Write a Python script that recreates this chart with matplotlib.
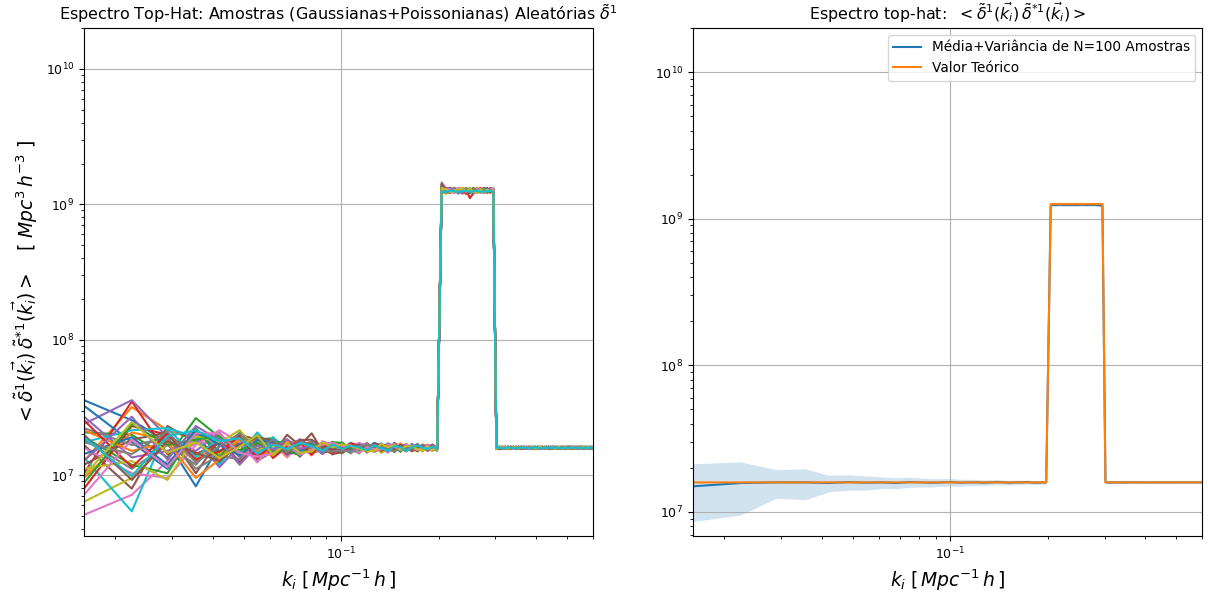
import numpy as np
import matplotlib
matplotlib.use("Agg")
import matplotlib.pyplot as plt

# k bins (Mpc^-1 h)
k = [0.0160, 0.0225, 0.0290, 0.0355, 0.0420, 0.0485, 0.0550, 0.0615, 0.0680, 0.0745,
     0.0810, 0.0875, 0.0940, 0.1005, 0.1070, 0.1135, 0.1200, 0.1265, 0.1330, 0.1395,
     0.1460, 0.1525, 0.1590, 0.1655, 0.1720, 0.1785, 0.1850, 0.1915, 0.1980, 0.2045,
     0.2110, 0.2175, 0.2240, 0.2305, 0.2370, 0.2435, 0.2500, 0.2565, 0.2630, 0.2695,
     0.2760, 0.2825, 0.2890, 0.2955, 0.3020, 0.3085, 0.3150, 0.3215, 0.3280, 0.3345,
     0.3410, 0.3475, 0.3540, 0.3605, 0.3670, 0.3735, 0.3800, 0.3865, 0.3930, 0.3995,
     0.4060, 0.4125, 0.4190, 0.4255, 0.4320, 0.4385, 0.4450, 0.4515, 0.4580, 0.4645,
     0.4710, 0.4775, 0.4840, 0.4905, 0.4970, 0.5035, 0.5100, 0.5165, 0.5230, 0.5295,
     0.5360, 0.5425, 0.5490, 0.5555, 0.5620, 0.5685, 0.5750, 0.5815, 0.5880, 0.5945,
     0.6010]

# valor teorico: patamar fora / dentro do top-hat
P_LOW = 1.59e7
P_HAT = 1.26e9
theory = [P_LOW] * 29 + [P_HAT] * 15 + [P_LOW] * 47

# amostras: desvio (%) em relacao ao valor teorico, por trecho de k
samples_low = [
    [125, 60, 10, -48, 5, -10, 8, -5, 12, -3, 6, -8, 4],
    [-20, 100, 35, 15, -18, 20, -12, 8, -15, 10, -4, 9, -6],
    [30, 25, -15, 66, 20, -8, 15, 18, -6, 4, 10, -5, 3],
    [-35, 120, -10, 25, -22, 12, -18, 5, 7, -12, 3, -6, 11],
    [50, 125, 20, -5, 30, -15, 10, -14, 4, 15, -8, 6, -2],
    [5, -50, 45, 10, -8, 25, 15, -10, 25, 4, 28, -5, 9],
    [-68, -55, -20, 8, 12, -20, 5, 16, -10, -8, 2, 7, -11],
    [15, -30, 5, -25, 18, 6, -20, -6, 3, 12, -9, -3, 8],
    [-60, -40, 8, -12, -10, 18, 12, 3, -12, 6, 5, -10, 2],
    [-15, -66, 40, 20, -25, 15, -5, 20, -3, -9, 12, 2, -7],
    [105, 10, -30, 30, -5, 8, -15, 12, 6, -4, -7, 11, 5],
    [-40, 30, 15, -20, 25, -12, 20, -8, -5, 9, 8, -4, -3],
    [20, -25, -35, 40, -15, 30, -8, 6, 14, -10, -2, 5, 10],
    [-50, 45, 25, -10, 8, -5, 25, -16, 2, 7, 10, -8, -4],
    [70, -15, -5, 15, -28, 4, -10, 14, -8, 16, -5, 8, 6],
    [-25, 15, 30, -35, 15, -22, 6, -4, 10, -14, 7, -2, -10],
    [0, -35, -40, 5, 35, 10, -22, 9, -14, 3, -12, 12, 4],
    [40, 5, 18, -30, -12, -18, 18, -12, 8, -5, 4, -9, 7],
    [-30, -20, -42, 22, 10, 35, -3, 4, -6, 11, -10, 3, -6],
    [10, 35, 40, -15, 20, -8, 30, -2, 5, -7, 9, -6, 2],
    [-10, 20, -25, 35, 5, -12, 14, 10, -9, -6, 8, 3, -5],
    [35, -5, 10, -40, -18, 16, -6, -12, 11, 8, -6, 5, 7],
    [-45, 50, 5, 15, 22, -4, 9, -7, -4, -12, 6, -7, 3],
    [60, -28, 28, -18, -6, 22, -16, 7, 5, 10, -11, 9, -8],
    [-20, 70, -18, 45, 14, -25, 4, -3, 16, -2, 4, -10, 5],
    [25, -42, 12, -8, -20, 6, 20, 13, -11, 14, 15, 1, -2],
    [-55, 15, -28, 28, 28, -8, -14, -9, 6, -11, -3, 6, 9],
    [10, -10, 32, -22, 2, 28, -2, 15, -7, 5, 11, -4, -6],
    [-38, 55, -8, 10, -16, 2, 24, -11, 9, -8, -6, 10, 1],
    [20, -38, 22, 35, 12, 18, -9, 6, -2, 9, 3, -5, 6],
]
samples_mid = [
    [3, -7, 5, -2, 8, -4, 1, 6, -3, 2, -5, 4, 0, -2, 3, -1],
    [-8, 4, -2, 9, -5, 3, -6, 2, 5, -4, 1, -3, 6, 2, -2, 4],
    [6, 2, -9, 4, 1, -6, 5, -3, 0, 6, -2, 3, -4, 1, 5, -3],
    [-2, 9, 3, -6, 4, 7, -3, -5, 4, -1, 6, -2, 3, -5, 0, 2],
    [10, -3, 6, 2, -7, 0, 8, 3, -6, 5, -3, 7, -1, 4, -3, 1],
    [-5, 6, 1, -4, 6, -2, -7, 9, 2, -3, 4, 0, -5, 3, 2, -4],
    [4, -6, 8, -8, 3, 5, 2, -4, 7, 1, -6, 2, 4, -3, -1, 5],
    [-9, 1, -4, 7, -2, -5, 4, 6, -1, -6, 3, 5, -2, 0, 4, -2],
    [7, -4, 3, 1, 5, -8, -2, 0, 6, 3, -4, -5, 2, 6, -2, 0],
    [-4, 8, -6, 5, -3, 2, 7, -7, 1, 4, 2, -4, 5, -1, -4, 3],
    [2, -9, 4, -3, 9, 4, -5, 2, -4, -2, 5, 1, -3, 5, 1, -3],
    [-6, 3, 7, -1, -4, 6, 1, -2, 8, -5, -1, 4, 2, -4, 3, 2],
    [9, -1, -3, 6, 2, -3, -4, 5, -5, 2, 4, -6, 1, 3, -3, 4],
    [-3, 5, 2, -7, 7, 1, 3, -6, 3, 6, -4, 2, -2, -2, 6, -1],
    [5, -5, -7, 3, -1, 8, -1, 4, -2, -4, 7, -1, 5, 2, -1, -5],
    [-7, 7, 0, -5, 4, -6, 6, 1, -6, 3, -2, 6, -4, 4, 2, 1],
    [1, -2, 9, 4, -6, 3, -8, 7, 2, -1, 0, -3, 3, -5, 4, -2],
    [-1, 3, -5, 8, 0, -2, 2, -5, 5, 4, -5, 3, 0, 1, -5, 3],
    [8, -8, 4, -2, 3, -7, 5, 3, -3, -3, 3, 0, -6, 2, 1, -4],
    [-5, 2, -1, 1, -3, 4, -2, 1, 2, -2, 1, -2, 2, -1, 0, 1],
    [4, -3, 6, -5, 2, 5, -4, 3, -2, 4, 0, -3, 2, 3, -4, 1],
    [-6, 6, -2, 3, -6, 1, 5, -5, 3, -2, 4, 1, -3, -1, 2, -3],
    [8, -2, -5, 6, 3, -4, 0, 4, -6, 5, -3, 2, 4, -2, -1, 3],
    [-1, 7, 4, -3, 6, -5, 2, -1, 4, -4, 2, -5, 1, 4, 3, -1],
    [5, -6, 2, 7, -4, 3, -6, 6, 0, -3, 5, 3, -2, 0, -3, 2],
    [-8, 2, 5, -2, 1, 6, 3, -3, 5, 2, -5, 0, 3, -4, 4, -2],
    [3, 5, -8, 1, -2, -3, 6, 2, -4, 6, 1, -4, -1, 5, -2, 4],
    [-4, -7, 3, 5, 5, 2, -3, -6, 2, -1, -2, 5, 2, -3, 1, 0],
    [6, 3, -1, -6, -5, 7, 1, 5, -3, 3, 3, -2, -4, 2, -5, 3],
    [-2, 4, 1, -4, 4, -1, -5, 3, 1, -5, 2, 4, 0, -2, 3, -2],
]
samples_hat = [
    [4, -2, 3, 1, -3, 2, 0, -1, 3, -2, 1, 2, -1, 0, 3],
    [-3, 5, -1, 2, 4, -2, 3, 1, -3, 2, -1, 0, 4, -2, 1],
    [6, 1, -2, 4, -1, 3, -3, 2, 0, 4, -2, 3, 1, -3, 2],
    [-1, -4, 2, -3, 3, -5, 2, -12, -4, 1, 3, -2, 0, 2, -3],
    [15, 3, 5, -2, 1, 4, -1, 3, -2, 0, 4, 1, -3, 3, 0],
    [2, -3, 0, 5, -4, 1, 4, -2, 3, -3, 0, 5, 2, -1, -2],
    [-4, 2, 4, -1, 2, -3, 1, 5, -1, 3, -4, -1, 3, 1, 4],
    [1, 4, -3, 3, 0, 2, -4, 0, 4, -1, 2, -3, -2, 4, -1],
    [3, -1, 1, -4, 5, 0, 3, -3, 1, 5, -3, 2, 0, -2, 2],
    [-2, 3, -4, 2, -2, 5, -2, 2, -4, 1, 3, -4, 3, 0, -3],
    [5, 0, 2, 3, -3, -1, 5, -4, 2, -3, 1, 4, -4, 2, 1],
    [0, -5, 3, 0, 2, 3, -2, 4, -3, 2, 5, -2, 1, -4, 3],
    [-5, 2, -2, 4, 1, -4, 2, 1, 5, -2, -1, 3, -1, 3, -2],
    [8, -2, 4, -3, 3, 1, -5, 3, -1, 4, -2, 0, 5, -1, 0],
    [10, 4, -1, 1, -5, 4, 0, -2, 2, 0, 3, -3, 2, 1, -4],
    [-3, 1, 5, -2, 3, -2, 3, 1, -5, 3, -1, 2, -2, 5, 1],
    [2, -3, -3, 5, 0, 2, -1, 4, 1, -4, 4, 1, 3, -3, 2],
    [-1, 5, 1, -1, 4, -3, 2, -1, 3, 1, -3, 4, -3, 2, -2],
    [4, -4, 0, 2, -2, 3, 4, 2, -2, 3, 0, -4, 1, 0, 3],
    [-2, 0, -1, 1, -1, -2, 0, -1, -2, 0, -1, -2, -1, -1, 0],
    [3, 2, -3, 0, 4, -2, 1, 3, -3, 2, 0, -2, 4, 1, -1],
    [-4, 0, 3, -2, 1, 5, -3, 0, 2, -4, 3, 1, -1, 3, 2],
    [7, -3, 1, 4, -3, 0, 2, -4, 4, 1, -2, 3, 0, -2, 4],
    [1, 4, -2, -1, 3, 2, -5, 3, 0, -2, 4, -3, 2, 0, -1],
    [-2, 1, 4, 3, -2, -4, 3, 1, -4, 3, 0, 2, -3, 4, 1],
    [12, -1, -4, 2, 0, 3, 0, -3, 3, -1, 2, -1, 3, -3, 0],
    [0, 3, 2, -4, 5, 1, -2, 2, 1, 4, -4, 0, -2, 2, 3],
    [-3, -2, 0, 3, -1, -3, 4, -2, 2, 0, 1, 4, -4, 1, -2],
    [5, 2, -3, 1, 2, 4, -1, 4, -2, -3, 3, -2, 2, -1, 0],
    [-1, -2, 0, -1, -2, -1, 0, -2, -1, 0, -2, -1, -1, 0, -2],
]
samples_tail = [
    [2, -1, 1, 0, -2, 1, 2, -1, 0, 1, -1, 2, 0, -2, 1, 0, 1, -1, 2, 0, -1, 1, 0, 2, -1, 0, 1, -2, 1, 0, 2, -1, 1, 0, -1, 1, 0, 2, -1, 0, 1, -1, 0, 1, -1, 0, 1],
    [-2, 1, 0, 2, -1, 0, -1, 2, 1, -1, 0, -2, 1, 1, -1, 2, 0, -1, 0, 1, 2, 0, -1, 1, 0, -2, 1, 0, -1, 2, 0, 1, -1, 0, 2, -1, 1, 0, -1, 1, 0, 2, -1, 0, 1, 0, -1],
    [1, 2, -1, 0, 1, -2, 0, 1, 2, 0, -1, 1, 0, -1, 2, 1, -2, 0, 1, -1, 0, 2, 1, -1, 0, 1, -1, 2, 0, -1, 1, 0, 2, -1, 0, 1, -1, 0, 2, -1, 0, 1, 0, -1, 1, 2, 0],
    [0, -2, 2, 1, -1, 0, 1, -2, 0, 2, 1, -1, 2, 0, 0, -1, 1, 2, -1, 0, 1, -1, 0, 2, 1, -1, 0, 1, 2, -1, 0, -2, 0, 1, 1, 0, -1, 1, 0, 2, -1, 0, 1, 1, -1, 0, 1],
    [3, 0, -1, 1, 2, -1, 1, 0, -1, 2, 0, 1, -1, 2, 0, 1, 0, -2, 1, 1, -1, 0, 2, 0, -1, 2, 1, -1, 0, 1, -1, 2, 0, -1, 1, 0, 2, -1, 0, 1, 0, -1, 2, 0, 1, -1, 0],
    [-1, 1, 2, -1, 0, 2, -1, 1, 0, -2, 2, 0, 1, -1, 1, -2, 1, 0, 2, -1, 0, 1, -2, 1, 0, 0, 2, -1, 1, 0, -1, 1, 0, 2, -1, 1, 0, -1, 1, 0, 2, -1, 1, 0, -1, 1, 0],
    [1, -1, 0, 2, 1, -1, 0, 2, -1, 0, 1, 2, -1, 0, -2, 1, 0, 1, -1, 2, 0, -1, 1, 0, 2, -1, 0, 1, -1, 0, 1, 2, -1, 0, 1, -1, 0, 1, 2, -1, 0, 1, -1, 1, 0, -1, 2],
    [0, 2, -2, 1, 0, 1, -2, 0, 1, 1, -1, 0, 2, -1, 1, 0, 2, -1, 0, -1, 1, 2, 0, -1, 1, 0, -1, 2, 0, 1, -1, 0, 1, 1, -2, 2, 0, 1, -1, 0, 1, 0, -1, 2, 0, 1, -1],
    [-2, 0, 1, -1, 2, 0, 1, -1, 2, -1, 0, 1, -1, 1, 0, 2, -1, 1, 0, -2, 1, 0, 2, -1, -1, 1, 2, 0, -1, 1, 0, -1, 2, 1, 0, -1, 1, 0, 1, -1, 2, 0, -1, 1, 0, 1, 0],
    [1, 1, -1, 2, -2, 0, 0, 1, -1, 2, 1, -1, 0, 1, 2, -1, 0, -1, 1, 0, 2, -1, 0, 1, -1, 2, 0, -1, 1, 0, 1, 1, -1, 0, 2, 0, -1, 1, 0, 1, -1, 1, 0, -1, 2, 0, 1],
    [2, -2, 0, 1, 1, -1, 2, 0, -2, 1, 0, 1, -1, 0, 1, 2, -1, 0, 1, -1, 0, 2, -1, 1, 0, -1, 1, 0, 2, -1, 1, 0, -1, 2, 0, 1, -1, 0, 1, 1, 0, -1, 1, 0, 2, -1, 0],
    [-1, 0, 2, -2, 1, 1, 0, -1, 1, 0, 2, -1, 1, 0, -1, 1, 0, 2, -1, 0, 1, -2, 1, 0, 1, 0, -1, 1, 1, 2, -1, 0, 1, -1, 1, 0, 2, -1, 0, 1, 0, 1, -1, 0, 1, 0, -1],
    [0, 1, -1, 0, 2, -1, 1, 2, 0, -1, 1, 0, -2, 2, 0, -1, 1, 0, 1, 2, -1, 0, 1, -1, 2, 0, 1, -1, 0, 1, 2, -1, 0, 1, -1, 2, 0, 1, 0, -1, 1, 0, 2, -1, 0, 1, 0],
    [1, -1, 1, 2, -1, 0, -1, 1, 0, 1, -2, 1, 0, -1, 2, 0, 1, -1, 0, 1, 0, -1, 2, 1, -2, 1, 0, 0, 1, -1, 0, 1, 2, -1, 0, -1, 1, 1, 0, 2, -1, 0, 1, 0, -1, 1, 1],
    [-1, 2, 0, -1, 0, 2, 1, -1, 1, 0, 1, -1, 1, 1, -2, 0, 2, 0, -1, 1, 2, 0, -1, 0, 1, -1, 2, 1, -1, 0, 1, -1, 0, 2, 0, -1, 1, 0, -1, 2, 0, 1, -1, 2, 0, -1, 1],
    [2, 0, -2, 1, 1, 0, -1, 2, -1, 0, 0, 2, -1, 0, 1, -1, 0, 1, 2, -1, 1, 0, 0, -1, 1, 2, -1, 0, 1, 0, -1, 2, 1, 0, -1, 0, 1, 2, -1, 0, 1, -1, 0, 1, 1, 0, -1],
    [0, -1, 1, -1, 2, 1, 0, -2, 1, 2, -1, 0, 1, 2, 0, 1, -1, 0, -1, 2, 0, 1, -1, 2, 0, -1, 0, 2, 1, -1, 0, 0, 1, -1, 2, 1, -1, 0, 2, 0, -1, 2, 0, -1, 1, 0, 1],
    [-2, 1, 1, 0, -1, 2, 0, 1, -1, 0, 2, -1, 0, 1, 1, -2, 2, 0, 1, -1, 0, 1, 1, -2, 0, 1, 0, -1, 2, 0, 1, -1, 2, 0, 0, 1, -1, 2, 0, -1, 1, 0, -1, 1, 0, 2, -1],
    [1, 0, -1, 2, 0, -2, 1, 0, 2, -1, 1, 0, 2, -1, 0, 1, -2, 1, 0, 1, -1, 1, 0, 2, -1, 0, 1, 1, -1, 2, 0, -1, 1, 0, 2, -1, 1, 0, -1, 0, 2, 1, -1, 0, 1, -1, 0],
    [0, 1, 0, -1, 1, 0, -1, 1, 0, 0, -1, 1, 0, 1, -1, 0, 1, 0, -1, 1, 0, 0, 1, -1, 0, 1, 0, -1, 1, 0, 0, 1, -1, 0, 1, 0, -1, 0, 1, 0, -1, 1, 0, 0, 1, -1, 0],
    [1, 0, -1, 2, -1, 1, 0, -2, 1, 0, 2, -1, 0, 1, -1, 0, 2, 1, -1, 0, -1, 1, 2, 0, -1, 1, 0, 1, -2, 0, 1, 2, -1, 0, 1, -1, 0, 1, 0, 2, -1, 0, 1, -1, 0, 2, 0],
    [-1, 2, 1, -1, 0, 1, 2, 0, -1, 1, 0, 1, -2, 0, 2, 1, -1, 0, 1, 0, 2, -1, 0, 1, 1, -1, 0, 2, 0, -1, 1, 0, 1, -2, 0, 1, 1, 0, -1, 2, 0, 1, -1, 0, 1, 0, 1],
    [2, 1, 0, -1, 1, -1, 0, 2, 0, -1, 1, 2, 0, -1, 0, -2, 1, 1, 0, 2, -1, 0, 1, -1, 2, 0, 1, -1, 1, 0, -1, 1, 0, 2, -1, 0, 1, -1, 2, 0, 1, 0, -1, 1, 0, -1, 1],
    [0, -1, 2, 1, 0, -1, 1, 0, 2, -2, 1, 0, 1, 2, -1, 0, 1, -1, 0, 1, 1, -2, 0, 2, 0, 1, -1, 0, 1, 2, 0, -1, 1, 0, 2, 0, -1, 1, 1, 0, -1, 2, 0, 1, -1, 0, 0],
    [-1, 0, 1, 0, 2, 0, -1, 1, -1, 1, 2, 0, -1, 1, 0, 1, -1, 2, 0, -1, 0, 1, -1, 0, 1, 2, -1, 1, 0, -2, 2, 0, 1, 0, -1, 1, 2, 0, -1, 1, 0, -1, 1, 2, 0, -1, 1],
    [1, -2, 0, 1, -1, 2, 1, -1, 0, 2, -1, 1, 0, -1, 1, 2, 0, -1, 2, 0, 1, 0, -1, 2, 0, -1, 1, 0, 1, -1, 0, 2, -1, 1, 0, -1, 1, 0, 2, -1, 1, 0, 0, -1, 2, 1, 0],
    [0, 1, 2, -1, 1, 0, -2, 1, 1, 0, -1, 2, 1, 0, -1, 1, 0, 2, -1, 1, 0, -1, 1, 2, -1, 0, 1, 0, -1, 2, 1, -1, 0, 1, 2, -1, 0, 1, 0, -1, 2, 0, 1, -1, 0, 1, -1],
    [2, 0, -1, 1, 0, -1, 2, 0, 1, -1, 0, -1, 2, 1, 0, 1, -2, 0, 1, -1, 2, 1, 0, -1, 1, 0, 2, -1, 0, 1, -1, 0, 2, 0, 1, -1, 1, 0, -1, 1, 0, 2, -1, 0, 1, -1, 0],
    [-2, 1, 0, 2, -1, 0, 1, 1, -1, 0, 2, 0, -1, 1, 1, -1, 0, 2, 0, 1, -1, 0, 1, 0, -2, 1, 2, 0, -1, 1, 0, -1, 1, 2, 0, -1, 0, 1, 1, -1, 2, 0, -1, 1, 0, 1, 0],
    [0, 1, -1, 0, 1, 0, 0, -1, 1, 0, 1, 0, -1, 0, 1, 1, 0, -1, 0, 1, -1, 0, 1, 0, 0, 1, -1, 0, 1, 0, -1, 0, 1, 1, 0, -1, 0, 1, 0, -1, 0, 1, 0, -1, 1, 0, 0],
]

# media e desvio padrao das N=100 amostras (% do valor teorico)
mean_pct = [-6, -1, 0, 0, -1, 0.5, -0.5, 0, -1, 0.5, 0, -0.5, 0,
            0.5, -0.5, 0, 0, -0.5, 0, 0.5, 0, -0.5, 0, 0, 0.5, 0, -0.5, 0, 0,
            -1.5, -1.5, -1.2, -1.4, -1.5, -1.3, -1.5, -1.4, -1.2, -1.5, -1.4, -1.3, -1.5, -2, -2.5,
            0.3, -0.2, 0, 0.2, -0.1, 0, 0.1, -0.2, 0, 0.1, -0.1, 0.2, 0, -0.1, 0.1, 0,
            -0.2, 0.1, 0, 0.1, -0.1, 0, 0.2, -0.1, 0, 0.1, 0, -0.1, 0.1, 0, -0.1, 0.1,
            0, 0.1, -0.1, 0, 0.1, 0, -0.1, 0, 0.1, 0, -0.1, 0, 0.1, 0, 0]
std_pct = [40, 39, 22, 24, 13, 12, 11, 9, 8.5, 8, 7, 6.5, 6,
           6, 5.5, 5, 4.8, 4.5, 4.3, 4, 3.8, 3.6, 3.5, 3.3, 3.2, 3, 3, 2.8, 2.7,
           2.5, 2.3, 2.2, 2.1, 2.2, 2.0, 2.1, 2.0, 1.9, 2.0, 1.9, 1.8, 1.9, 1.8, 1.8,
           1.8, 1.7, 1.7, 1.7, 1.6, 1.6, 1.6, 1.5, 1.5, 1.5, 1.5, 1.4, 1.4, 1.4, 1.4, 1.4,
           1.3, 1.3, 1.3, 1.3, 1.3, 1.2, 1.2, 1.2, 1.2, 1.2, 1.2, 1.1, 1.1, 1.1, 1.1, 1.1,
           1.1, 1.1, 1.0, 1.0, 1.0, 1.0, 1.0, 1.0, 1.0, 1.0, 1.0, 0.9, 0.9, 0.9, 0.9]

k = np.array(k)
theory = np.array(theory)
dev = np.hstack([np.array(samples_low), np.array(samples_mid),
                 np.array(samples_hat), np.array(samples_tail)])
mean = theory * (1 + np.array(mean_pct) / 100)
std = theory * np.array(std_pct) / 100

fig = plt.figure(figsize=(12.08, 6.01), dpi=100)
ax1 = fig.add_axes([0.0695, 0.108, 0.4214, 0.8453])
ax2 = fig.add_axes([0.5737, 0.108, 0.4214, 0.8453])

xlab = r'$k_i\;[\,Mpc^{-1}\,h\,]$'

for row in dev:
    ax1.plot(k, theory * (1 + row / 100))
ax1.set_xscale('log')
ax1.set_yscale('log')
ax1.set_xlim(k[0], k[-1])
ax1.set_ylim(10**6.55, 2e10)
ax1.grid(True)
ax1.set_title(r'Espectro Top-Hat: Amostras (Gaussianas+Poissonianas) Aleatórias $\tilde{\delta}^1$',
              fontsize=11.5)
ax1.set_xlabel(xlab, fontsize=13.5)
ax1.set_ylabel(r'$<\tilde{\delta}^1(\vec{k_i})\,\tilde{\delta}^{*1}(\vec{k_i})>$   [ $Mpc^3\,h^{-3}$ ]',
               fontsize=13.5)

ax2.plot(k, mean, color='C0', label='Média+Variância de N=100 Amostras')
ax2.fill_between(k, mean - std, mean + std, color='C0', alpha=0.2, lw=0)
ax2.plot(k, theory, color='C1', label='Valor Teórico')
ax2.set_xscale('log')
ax2.set_yscale('log')
ax2.set_xlim(k[0], k[-1])
ax2.set_ylim(10**6.835, 2e10)
ax2.grid(True)
ax2.set_title(r'Espectro top-hat:  $<\tilde{\delta}^1(\vec{k_i})\,\tilde{\delta}^{*1}(\vec{k_i})>$',
              fontsize=11.4)
ax2.set_xlabel(xlab, fontsize=13.5)
ax2.legend(loc='upper right', fontsize=9.8)

for ax in (ax1, ax2):
    ax.tick_params(labelsize=9)

fig.savefig('out.png', dpi=100)
